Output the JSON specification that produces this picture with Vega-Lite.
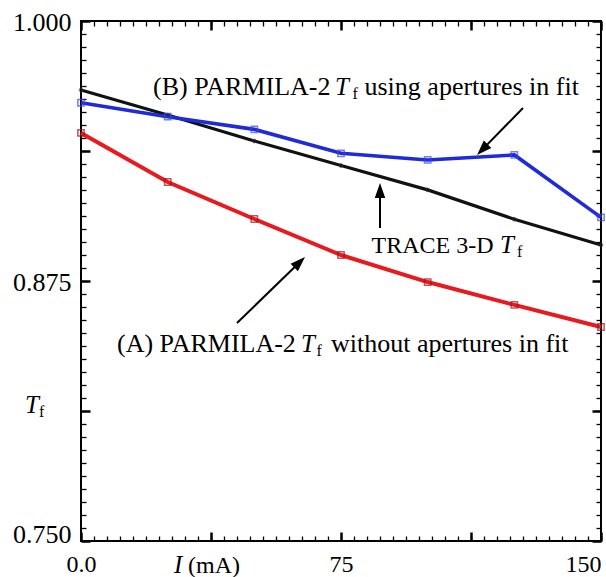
{
  "$schema": "https://vega.github.io/schema/vega-lite/v6.json",
  "width": 520,
  "height": 520,
  "autosize": {"type": "none"},
  "padding": {"left": 81, "top": 21, "right": 5, "bottom": 36},
  "background": "white",
  "config": {
    "view": {"stroke": "black", "strokeWidth": 2},
    "axis": {"grid": false, "domain": false, "title": null, "labelFont": "Liberation Serif", "labelColor": "black", "tickColor": "black"}
  },
  "resolve": {"axis": {"x": "independent", "y": "independent"}},
  "datasets": {
    "series": [
      {"s": "A", "I": 0, "T": 0.9462}, {"s": "A", "I": 25, "T": 0.9226}, {"s": "A", "I": 50, "T": 0.9048}, {"s": "A", "I": 75, "T": 0.8875}, {"s": "A", "I": 100, "T": 0.8745}, {"s": "A", "I": 125, "T": 0.8635}, {"s": "A", "I": 150, "T": 0.8529},
      {"s": "B", "I": 0, "T": 0.9607}, {"s": "B", "I": 25, "T": 0.954}, {"s": "B", "I": 50, "T": 0.9479}, {"s": "B", "I": 75, "T": 0.9364}, {"s": "B", "I": 100, "T": 0.9332}, {"s": "B", "I": 125, "T": 0.9356}, {"s": "B", "I": 150, "T": 0.9056},
      {"s": "C", "I": 0, "T": 0.9668}, {"s": "C", "I": 25, "T": 0.9548}, {"s": "C", "I": 50, "T": 0.9423}, {"s": "C", "I": 75, "T": 0.9305}, {"s": "C", "I": 100, "T": 0.9188}, {"s": "C", "I": 125, "T": 0.9047}, {"s": "C", "I": 150, "T": 0.8923}
    ],
    "labels": [
      {"k": "m26", "x": 20.77, "y": 0.96442, "t": "(B) PARMILA-2"},
      {"k": "it", "x": 73.27, "y": 0.96442, "t": "T"},
      {"k": "sub", "x": 78.32, "y": 0.96442, "t": "f"},
      {"k": "m26", "x": 81.78, "y": 0.96442, "t": "using apertures in fit"},
      {"k": "m26", "x": 10.38, "y": 0.84087, "t": "(A) PARMILA-2"},
      {"k": "it", "x": 63.46, "y": 0.84087, "t": "T"},
      {"k": "sub", "x": 67.93, "y": 0.84087, "t": "f"},
      {"k": "m26", "x": 72.12, "y": 0.84087, "t": "without apertures in fit"},
      {"k": "m24", "x": 83.8, "y": 0.88846, "t": "TRACE 3-D"},
      {"k": "it", "x": 120.87, "y": 0.88846, "t": "T"},
      {"k": "sub", "x": 125.77, "y": 0.88846, "t": "f"},
      {"k": "it", "x": -16.15, "y": 0.81154, "t": "T"},
      {"k": "sub", "x": -12.12, "y": 0.81154, "t": "f"},
      {"k": "it", "x": 26.83, "y": 0.7346, "t": "I"},
      {"k": "m24", "x": 30.87, "y": 0.7346, "t": "(mA)"}
    ],
    "arrows": [
      {"a": "B", "x": 127.5, "y": 0.95817, "x2": 115.76, "y2": 0.93817},
      {"a": "C", "x": 86.25, "y": 0.90048, "x2": 86.25, "y2": 0.91851},
      {"a": "A", "x": 45.0, "y": 0.85481, "x2": 63.06, "y2": 0.88404}
    ]
  },
  "layer": [
    {
      "data": {"name": "series"},
      "transform": [{"filter": "datum.s == 'C'"}],
      "mark": {"type": "line", "color": "#111111", "strokeWidth": 3.2},
      "encoding": {
        "x": {"field": "I", "type": "quantitative", "scale": {"domain": [0, 150], "nice": false, "zero": false},
          "axis": {"orient": "bottom", "values": [0, 75, 150], "labelExpr": "datum.value == 0 ? '0.0' : datum.label", "ticks": false, "labelFontSize": 24, "labelBaseline": "top", "labelPadding": 11, "labelAlign": {"condition": {"test": "datum.value == 150", "value": "right"}, "value": "center"}, "labelFlush": false, "labelOverlap": false, "labelBound": false}},
        "y": {"field": "T", "type": "quantitative", "scale": {"domain": [0.75, 1], "nice": false, "zero": false},
          "axis": {"orient": "left", "values": [0.75, 0.875, 1], "format": ".3f", "ticks": false, "labelFontSize": 26, "labelPadding": 10, "labelBaseline": {"condition": {"test": "datum.value == 0.75", "value": "alphabetic"}, "value": "middle"}, "labelOffset": 1, "labelFlush": false, "labelOverlap": false, "labelBound": false}}
      }
    },
    {
      "data": {"name": "series"},
      "transform": [{"filter": "datum.s == 'A'"}],
      "mark": {"type": "line", "color": "#e8191f", "strokeWidth": 4},
      "encoding": {
        "x": {"field": "I", "type": "quantitative", "scale": {"domain": [0, 150], "nice": false, "zero": false},
          "axis": {"orient": "bottom", "values": [0, 37.5, 75, 112.5, 150], "labels": false, "tickSize": -9, "tickWidth": 2.5}},
        "y": {"field": "T", "type": "quantitative", "scale": {"domain": [0.75, 1], "nice": false, "zero": false},
          "axis": {"orient": "left", "values": [0.75, 0.8125, 0.875, 0.9375, 1], "labels": false, "tickSize": -9, "tickWidth": 2.5}}
      }
    },
    {
      "data": {"name": "series"},
      "transform": [{"filter": "datum.s == 'B'"}],
      "mark": {"type": "line", "color": "#1f2bd9", "strokeWidth": 3.6},
      "encoding": {
        "x": {"field": "I", "type": "quantitative", "scale": {"domain": [0, 150], "nice": false, "zero": false},
          "axis": {"orient": "bottom", "values": [0, 3.75, 7.5, 11.25, 15, 18.75, 22.5, 26.25, 30, 33.75, 37.5, 41.25, 45, 48.75, 52.5, 56.25, 60, 63.75, 67.5, 71.25, 75, 78.75, 82.5, 86.25, 90, 93.75, 97.5, 101.25, 105, 108.75, 112.5, 116.25, 120, 123.75, 127.5, 131.25, 135, 138.75, 142.5, 146.25, 150], "labels": false, "tickSize": -5, "tickWidth": 1.3}},
        "y": {"field": "T", "type": "quantitative", "scale": {"domain": [0.75, 1], "nice": false, "zero": false},
          "axis": {"orient": "left", "values": [0.75, 0.75625, 0.7625, 0.76875, 0.775, 0.78125, 0.7875, 0.79375, 0.8, 0.80625, 0.8125, 0.81875, 0.825, 0.83125, 0.8375, 0.84375, 0.85, 0.85625, 0.8625, 0.86875, 0.875, 0.88125, 0.8875, 0.89375, 0.9, 0.90625, 0.9125, 0.91875, 0.925, 0.93125, 0.9375, 0.94375, 0.95, 0.95625, 0.9625, 0.96875, 0.975, 0.98125, 0.9875, 0.99375, 1], "labels": false, "tickSize": -5, "tickWidth": 1.3}}
      }
    },
    {
      "data": {"name": "series"},
      "transform": [{"filter": "datum.s == 'C'"}],
      "mark": {"type": "point", "shape": "circle", "filled": false, "color": "#333333", "size": 14, "strokeWidth": 1},
      "encoding": {
        "x": {"field": "I", "type": "quantitative", "scale": {"domain": [0, 150], "nice": false, "zero": false},
          "axis": {"orient": "top", "values": [0, 37.5, 75, 112.5, 150], "labels": false, "tickSize": -9, "tickWidth": 2.5}},
        "y": {"field": "T", "type": "quantitative", "scale": {"domain": [0.75, 1], "nice": false, "zero": false},
          "axis": {"orient": "right", "values": [0.75, 0.8125, 0.875, 0.9375, 1], "labels": false, "tickSize": -9, "tickWidth": 2.5}}
      }
    },
    {
      "data": {"name": "series"},
      "transform": [{"filter": "datum.s == 'A'"}],
      "mark": {"type": "point", "shape": "square", "filled": false, "color": "#a0141a", "size": 40, "strokeWidth": 1.5},
      "encoding": {
        "x": {"field": "I", "type": "quantitative", "scale": {"domain": [0, 150], "nice": false, "zero": false},
          "axis": {"orient": "top", "values": [0, 3.75, 7.5, 11.25, 15, 18.75, 22.5, 26.25, 30, 33.75, 37.5, 41.25, 45, 48.75, 52.5, 56.25, 60, 63.75, 67.5, 71.25, 75, 78.75, 82.5, 86.25, 90, 93.75, 97.5, 101.25, 105, 108.75, 112.5, 116.25, 120, 123.75, 127.5, 131.25, 135, 138.75, 142.5, 146.25, 150], "labels": false, "tickSize": -5, "tickWidth": 1.3}},
        "y": {"field": "T", "type": "quantitative", "scale": {"domain": [0.75, 1], "nice": false, "zero": false},
          "axis": {"orient": "right", "values": [0.75, 0.75625, 0.7625, 0.76875, 0.775, 0.78125, 0.7875, 0.79375, 0.8, 0.80625, 0.8125, 0.81875, 0.825, 0.83125, 0.8375, 0.84375, 0.85, 0.85625, 0.8625, 0.86875, 0.875, 0.88125, 0.8875, 0.89375, 0.9, 0.90625, 0.9125, 0.91875, 0.925, 0.93125, 0.9375, 0.94375, 0.95, 0.95625, 0.9625, 0.96875, 0.975, 0.98125, 0.9875, 0.99375, 1], "labels": false, "tickSize": -5, "tickWidth": 1.3}}
      }
    },
    {
      "data": {"name": "series"},
      "transform": [{"filter": "datum.s == 'B'"}],
      "mark": {"type": "point", "shape": "square", "filled": false, "color": "#3a4ae0", "size": 40, "strokeWidth": 1.5},
      "encoding": {
        "x": {"field": "I", "type": "quantitative", "scale": {"domain": [0, 150], "nice": false, "zero": false}, "axis": null},
        "y": {"field": "T", "type": "quantitative", "scale": {"domain": [0.75, 1], "nice": false, "zero": false}, "axis": null}
      }
    },
    {
      "data": {"name": "arrows"},
      "mark": {"type": "rule", "color": "black", "strokeWidth": 2},
      "encoding": {
        "x": {"field": "x", "type": "quantitative", "scale": {"domain": [0, 150], "nice": false, "zero": false}, "axis": null},
        "y": {"field": "y", "type": "quantitative", "scale": {"domain": [0.75, 1], "nice": false, "zero": false}, "axis": null},
        "x2": {"field": "x2"},
        "y2": {"field": "y2"}
      }
    },
    {
      "data": {"name": "arrows"},
      "transform": [{"filter": "datum.a == 'B'"}],
      "mark": {"type": "point", "shape": "M0,-1L-0.7,1L0.7,1Z", "filled": true, "color": "black", "opacity": 1, "size": 225, "angle": 224.4, "strokeWidth": 0},
      "encoding": {
        "x": {"field": "x2", "type": "quantitative", "scale": {"domain": [0, 150], "nice": false, "zero": false}, "axis": null},
        "y": {"field": "y2", "type": "quantitative", "scale": {"domain": [0.75, 1], "nice": false, "zero": false}, "axis": null}
      }
    },
    {
      "data": {"name": "arrows"},
      "transform": [{"filter": "datum.a == 'C'"}],
      "mark": {"type": "point", "shape": "M0,-1L-0.7,1L0.7,1Z", "filled": true, "color": "black", "opacity": 1, "size": 225, "angle": 0, "strokeWidth": 0},
      "encoding": {
        "x": {"field": "x2", "type": "quantitative", "scale": {"domain": [0, 150], "nice": false, "zero": false}, "axis": null},
        "y": {"field": "y2", "type": "quantitative", "scale": {"domain": [0.75, 1], "nice": false, "zero": false}, "axis": null}
      }
    },
    {
      "data": {"name": "arrows"},
      "transform": [{"filter": "datum.a == 'A'"}],
      "mark": {"type": "point", "shape": "M0,-1L-0.7,1L0.7,1Z", "filled": true, "color": "black", "opacity": 1, "size": 225, "angle": 45.8, "strokeWidth": 0},
      "encoding": {
        "x": {"field": "x2", "type": "quantitative", "scale": {"domain": [0, 150], "nice": false, "zero": false}, "axis": null},
        "y": {"field": "y2", "type": "quantitative", "scale": {"domain": [0.75, 1], "nice": false, "zero": false}, "axis": null}
      }
    },
    {
      "data": {"name": "labels"},
      "transform": [{"filter": "datum.k == 'm24'"}],
      "mark": {"type": "text", "font": "Liberation Serif", "fontSize": 24, "align": "left", "baseline": "alphabetic", "color": "black"},
      "encoding": {
        "x": {"field": "x", "type": "quantitative", "scale": {"domain": [0, 150], "nice": false, "zero": false}, "axis": null},
        "y": {"field": "y", "type": "quantitative", "scale": {"domain": [0.75, 1], "nice": false, "zero": false}, "axis": null},
        "text": {"field": "t"}
      }
    },
    {
      "data": {"name": "labels"},
      "transform": [{"filter": "datum.k == 'm26'"}],
      "mark": {"type": "text", "font": "Liberation Serif", "fontSize": 26, "align": "left", "baseline": "alphabetic", "color": "black"},
      "encoding": {
        "x": {"field": "x", "type": "quantitative", "scale": {"domain": [0, 150], "nice": false, "zero": false}, "axis": null},
        "y": {"field": "y", "type": "quantitative", "scale": {"domain": [0.75, 1], "nice": false, "zero": false}, "axis": null},
        "text": {"field": "t"}
      }
    },
    {
      "data": {"name": "labels"},
      "transform": [{"filter": "datum.k == 'it'"}],
      "mark": {"type": "text", "font": "Liberation Serif", "fontSize": 25, "fontStyle": "italic", "align": "left", "baseline": "alphabetic", "color": "black"},
      "encoding": {
        "x": {"field": "x", "type": "quantitative", "scale": {"domain": [0, 150], "nice": false, "zero": false}, "axis": null},
        "y": {"field": "y", "type": "quantitative", "scale": {"domain": [0.75, 1], "nice": false, "zero": false}, "axis": null},
        "text": {"field": "t"}
      }
    },
    {
      "data": {"name": "labels"},
      "transform": [{"filter": "datum.k == 'sub'"}],
      "mark": {"type": "text", "font": "Liberation Serif", "fontSize": 16, "align": "left", "baseline": "alphabetic", "dy": 4, "color": "black"},
      "encoding": {
        "x": {"field": "x", "type": "quantitative", "scale": {"domain": [0, 150], "nice": false, "zero": false}, "axis": null},
        "y": {"field": "y", "type": "quantitative", "scale": {"domain": [0.75, 1], "nice": false, "zero": false}, "axis": null},
        "text": {"field": "t"}
      }
    }
  ]
}
